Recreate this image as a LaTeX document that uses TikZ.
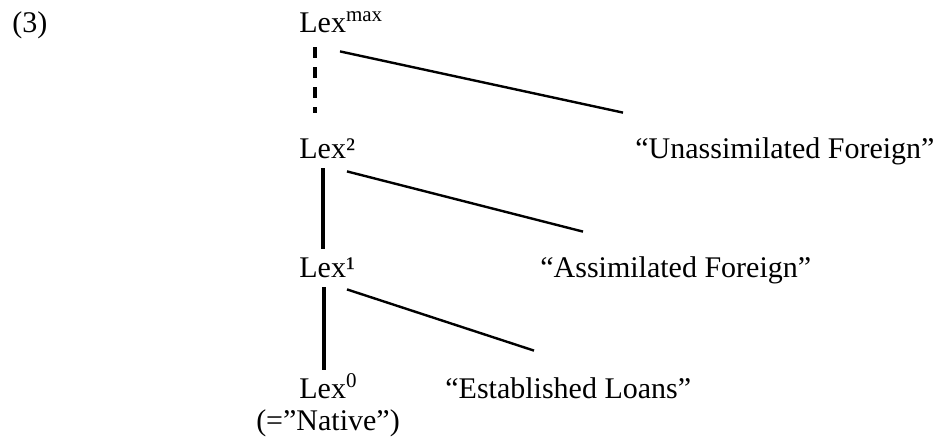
\documentclass[tikz,border=0pt]{standalone}
\usepackage{fontspec}
\setmainfont{Liberation Serif}
\usetikzlibrary{positioning}
\tikzset{
  lexnode/.style={
    anchor=base west,
    inner xsep=0pt,
    inner ysep=4pt,
    text height=10pt,
    text depth=0pt,
    font=\fontsize{15}{18}\selectfont
  },
  stem/.style={
    line width=1.6pt,
    draw=black
  },
  dashstem/.style={
    stem,
    dash pattern=on 5.5pt off 4.5pt
  },
  branch/.style={
    line width=1.2pt,
    draw=black
  }
}

\begin{document}
\begin{tikzpicture}[x=0.5pt, y=-0.5pt]
  \useasboundingbox (0,0) rectangle (947,441);

  \node[lexnode] (num) at (12,32) {(3)};
  \node[lexnode] (lexmax) at (299,32) {Lex\textsuperscript{max}};
  \node[lexnode] (lex2) at (299,158) {Lex²};
  \node[lexnode] (lex1) at (299,277) {Lex¹};
  \node[lexnode] (lex0) at (299,398) {Lex\textsuperscript{0}};
  \node[lexnode, anchor=base] (native) at (328,430) {(=”Native”)};

  \node[lexnode] (unassim) at (635,158) {“Unassimilated Foreign”};
  \node[lexnode] (assim) at (540,277) {“Assimilated Foreign”};
  \node[lexnode] (estab) at (445,398) {“Established Loans”};

  % vertical spine
  \draw[dashstem, shorten <=3.5pt, shorten >=8.5pt]
    ([xshift=8pt]lexmax.south west) -- ([xshift=8pt]lex2.north west);
  \draw[stem, shorten <=1pt] ([xshift=12pt]lex2.south west) -- ([xshift=12pt]lex1.north west);
  \draw[stem, shorten <=1pt] ([xshift=12.5pt]lex1.south west) -- ([xshift=12.5pt]lex0.north west);

  % side branches
  \draw[branch] ([xshift=20.5pt, yshift=-5.5pt]lexmax.south west) -- ([xshift=-6pt, yshift=8.5pt]unassim.north west);
  \draw[branch] ([xshift=24pt, yshift=-2.5pt]lex2.south west) -- ([xshift=21.5pt, yshift=8.5pt]assim.north west);
  \draw[branch] ([xshift=24pt, yshift=-2pt]lex1.south west) -- ([xshift=44.5pt, yshift=9.5pt]estab.north west);
\end{tikzpicture}
\end{document}
